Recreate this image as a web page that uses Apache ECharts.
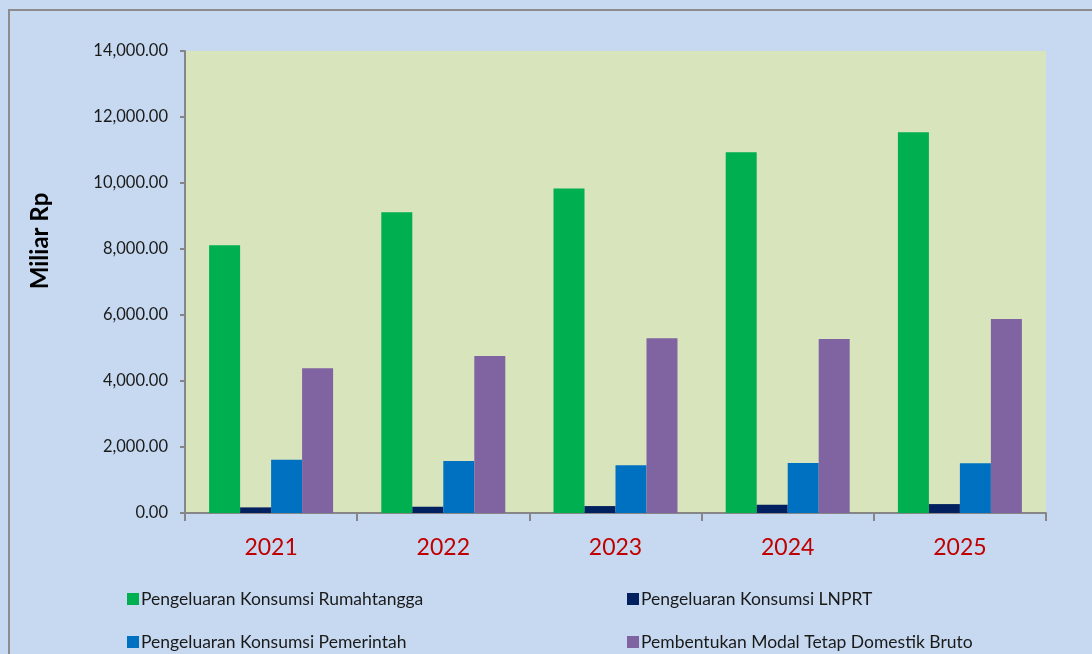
<!DOCTYPE html>
<html>
<head>
<meta charset="utf-8">
<script src="https://cdn.jsdelivr.net/npm/echarts@6/dist/echarts.min.js"></script>
<style>
  html, body { margin: 0; padding: 0; background: #c6d9f0; }
  #main { width: 1092px; height: 654px; }
</style>
</head>
<body>
<div id="main"></div>
<script>
var years = ['2021', '2022', '2023', '2024', '2025'];
var rumahtangga = [8110, 9115, 9830, 10930, 11535];
var lnprt = [170, 190, 210, 250, 270];
var pemerintah = [1615, 1575, 1445, 1515, 1505];
var modalTetap = [4385, 4760, 5295, 5275, 5880];

var seriesNames = [
  'Pengeluaran Konsumsi Rumahtangga',
  'Pengeluaran Konsumsi LNPRT',
  'Pengeluaran Konsumsi Pemerintah',
  'Pembentukan Modal Tetap Domestik Bruto'
];

var font = 'Lato, "Open Sans", sans-serif';
var mychart = echarts.init(document.getElementById('main'));

function bar(name, data, color) {
  return {
    name: name,
    type: 'bar',
    data: data,
    barGap: '0%',
    barCategoryGap: '28%',
    itemStyle: { color: color },
    animation: false
  };
}

// one legend per entry so the 2x2 layout sits where the original has it
function legendItem(name, left, top) {
  return {
    data: [name],
    left: left, top: top,
    itemWidth: 12, itemHeight: 12,
    icon: 'rect',
    textStyle: { fontSize: 17.5, color: '#1a1a1a', fontFamily: font, padding: [0, 0, 0, -3] }
  };
}

var option = {
  backgroundColor: '#c6d9f0',
  textStyle: { fontFamily: font },
  grid: {
    left: 185, right: 46, top: 51, bottom: 141,
    show: true,
    backgroundColor: '#d8e4bc',
    borderWidth: 0
  },
  legend: [
    legendItem(seriesNames[0], 122, 585),
    legendItem(seriesNames[1], 622, 585),
    legendItem(seriesNames[2], 122, 628),
    legendItem(seriesNames[3], 622, 628)
  ],
  xAxis: {
    type: 'category',
    data: years,
    axisLine: { lineStyle: { color: '#868686', width: 2 } },
    axisTick: { show: true, length: 8, interval: 0, lineStyle: { color: '#868686', width: 2 } },
    axisLabel: { color: '#c00000', fontSize: 23, margin: 23, fontFamily: font }
  },
  yAxis: {
    type: 'value',
    min: 0, max: 14000, interval: 2000,
    axisLine: { show: true, lineStyle: { color: '#868686', width: 2 } },
    axisTick: { show: true, length: 5, lineStyle: { color: '#868686', width: 2 } },
    splitLine: { show: false },
    axisLabel: {
      color: '#1a1a1a', fontSize: 16.5, margin: 17, fontFamily: font,
      formatter: function (v) {
        return v.toLocaleString('en-US', { minimumFractionDigits: 2, maximumFractionDigits: 2 });
      }
    }
  },
  graphic: [
    {
      type: 'rect',
      shape: { x: 9, y: 10, width: 1200, height: 800 },
      style: { fill: 'none', stroke: '#8c8c8c', lineWidth: 2 },
      silent: true
    },
    {
      type: 'text',
      x: 40, y: 241,
      rotation: Math.PI / 2,
      style: {
        text: 'Miliar Rp',
        font: 'bold 24px ' + font,
        fill: '#000',
        align: 'center',
        verticalAlign: 'middle'
      }
    }
  ],
  series: [
    bar(seriesNames[0], rumahtangga, '#00b050'),
    bar(seriesNames[1], lnprt, '#002060'),
    bar(seriesNames[2], pemerintah, '#0070c0'),
    bar(seriesNames[3], modalTetap, '#8064a2')
  ]
};

mychart.setOption(option);
</script>
</body>
</html>
